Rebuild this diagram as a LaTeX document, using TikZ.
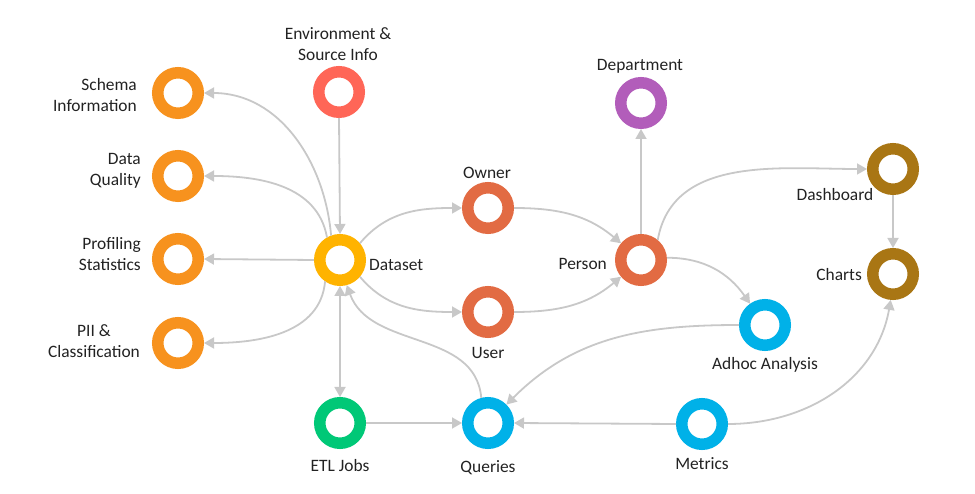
\documentclass[tikz,border=0pt]{standalone}
\usepackage{fontspec}
\setmainfont{Carlito}
\usetikzlibrary{arrows.meta}
\definecolor{cOrange}{HTML}{F7921E}
\definecolor{cEnv}{HTML}{FF6657}
\definecolor{cData}{HTML}{FFB300}
\definecolor{cPers}{HTML}{E26B43}
\definecolor{cDept}{HTML}{B25DBA}
\definecolor{cDash}{HTML}{A97614}
\definecolor{cBlue}{HTML}{00B1E8}
\definecolor{cGreen}{HTML}{00C877}
\definecolor{cEdge}{HTML}{C8C8C8}
\definecolor{cText}{HTML}{222222}
\tikzset{
  ring/.style={circle, draw=#1, line width=11.5pt, fill=white, minimum size=40.5pt, inner sep=0pt},
  lbl/.style={font=\fontsize{17.4}{21}\selectfont, text=cText, inner sep=0pt},
  edge/.style={draw=cEdge, line width=1.8pt, -{Triangle[length=10pt,width=11pt]}},
}
\begin{document}
\begin{tikzpicture}[x=1pt,y=-1pt]
\useasboundingbox (0,0) rectangle (975,494);
% nodes
\node[ring=cOrange] (schema) at (178,93) {};
\node[ring=cOrange] (dq) at (178,176) {};
\node[ring=cOrange] (prof) at (178,259) {};
\node[ring=cOrange] (pii) at (178,343) {};
\node[ring=cEnv] (env) at (339,92) {};
\node[ring=cData] (ds) at (340,260) {};
\node[ring=cPers] (owner) at (488,208) {};
\node[ring=cPers] (user) at (488,312) {};
\node[ring=cPers] (person) at (641,260) {};
\node[ring=cDept] (dept) at (641,103) {};
\node[ring=cDash] (dash) at (893,169) {};
\node[ring=cDash] (charts) at (893,274) {};
\node[ring=cBlue] (adhoc) at (765,325) {};
\node[ring=cGreen] (etl) at (340,423) {};
\node[ring=cBlue] (queries) at (488,423) {};
\node[ring=cBlue] (metrics) at (702,424) {};
% labels
\node[lbl, anchor=east, align=right] (lschema) at (137,95) {Schema\\Information};
\node[lbl, anchor=east, align=right] (ldq) at (141,171) {Data\\Quality};
\node[lbl, anchor=east, align=right] (lprof) at (141,254) {Profiling\\Statistics};
\node[lbl, align=center] (lpii) at (94,341) {PII \&\\Classification};
\node[lbl, align=center] (lenv) at (338,44) {Environment \&\\Source Info};
\node[lbl, anchor=west] (lds) at (369,265) {Dataset};
\node[lbl] (lowner) at (487,173) {Owner};
\node[lbl] (luser) at (488,353) {User};
\node[lbl, anchor=east] (lperson) at (607,264) {Person};
\node[lbl] (ldept) at (640,66) {Department};
\node[lbl] (ldash) at (835,195) {Dashboard};
\node[lbl, anchor=east] (lcharts) at (862,275) {Charts};
\node[lbl] (ladhoc) at (765,365) {Adhoc Analysis};
\node[lbl] (letl) at (340,466) {ETL Jobs};
\node[lbl] (lqueries) at (488,468) {Queries};
\node[lbl] (lmetrics) at (702,464) {Metrics};
% edges
\draw[edge] (ds.110) to[out=95,in=0] (schema.east);
\draw[edge] (ds.120) to[out=100,in=0] (dq.east);
\draw[edge] (ds.west) -- (prof.east);
\draw[edge] (ds.235) to[out=-95,in=0] (pii.east);
\draw[edge] (env.south) -- (ds.north);
\draw[edge] (ds.40) to[out=50,in=180] (owner.west);
\draw[edge] (ds.-40) to[out=-50,in=180] (user.west);
\draw[edge] (owner.east) to[out=0,in=140] (person.140);
\draw[edge] (user.east) to[out=0,in=-140] (person.220);
\draw[edge] (person.north) -- (dept.south);
\draw[edge] (person.50) to[out=80,in=180] (dash.west);
\draw[edge] (dash.south) -- (charts.north);
\draw[edge] (person.5) to[out=0,in=125] (adhoc.125);
\draw[edge] (adhoc.west) to[out=180,in=45] (queries.45);
\draw[edge, {Triangle[length=10pt,width=11pt]}-{Triangle[length=10pt,width=11pt]}] (ds.south) -- (etl.north);
\draw[edge] (etl.east) -- (queries.west);
\draw[edge] (metrics.west) -- (queries.east);
\draw[edge] (queries.105) to[out=95,in=-70] (ds.-75);
\draw[edge] (metrics.east) to[out=0,in=-100] (charts.-95);
\end{tikzpicture}
\end{document}
